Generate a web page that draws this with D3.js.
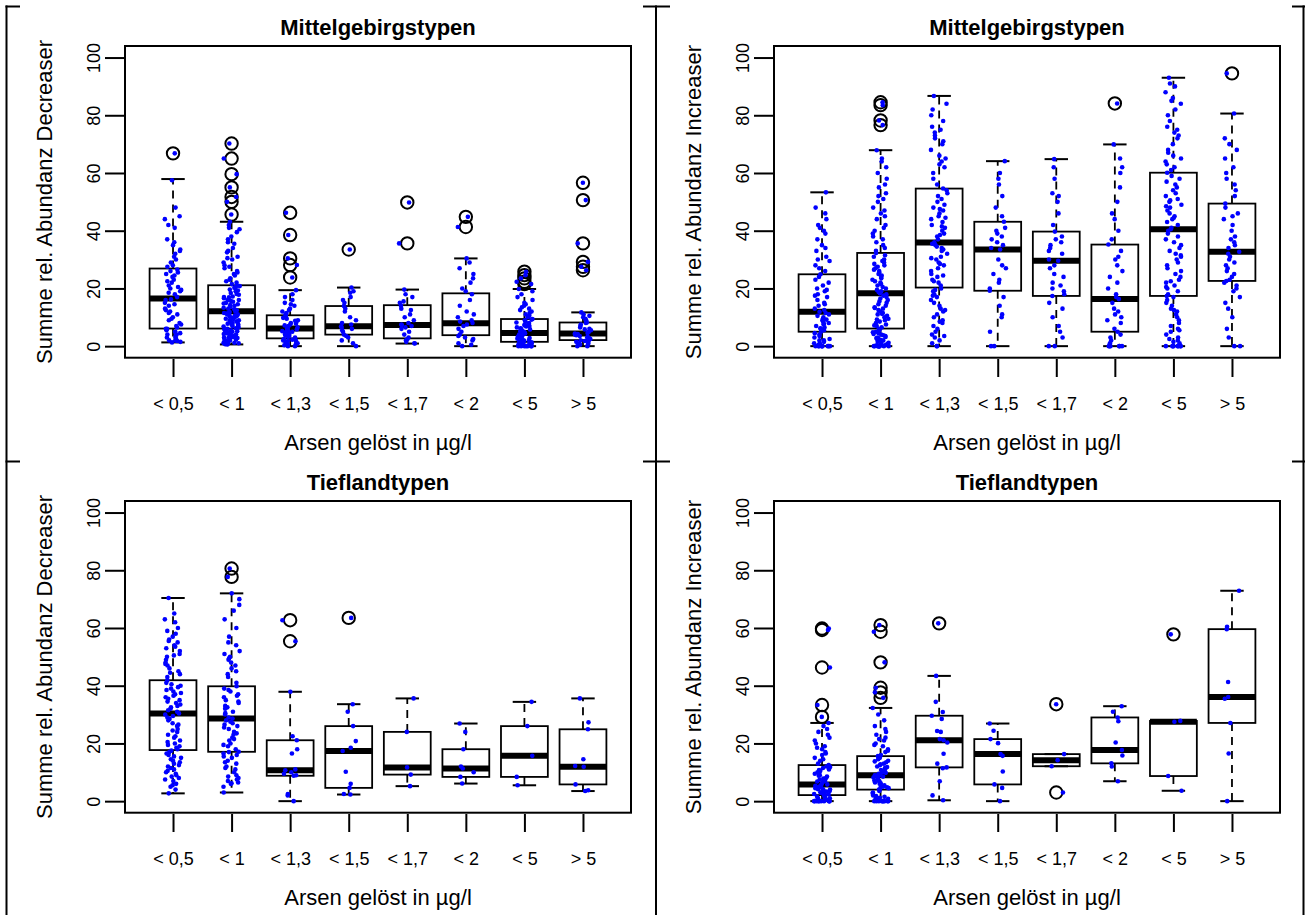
<!DOCTYPE html>
<html><head><meta charset="utf-8">
<script src="https://cdn.jsdelivr.net/npm/d3@7"></script>
<style>body{margin:0;background:#fff}svg{display:block;background:#fff}</style>
</head><body><svg id="c" width="1305" height="915"></svg>
<script>
const categories = ["< 0,5","< 1","< 1,3","< 1,5","< 1,7","< 2","< 5","> 5"];
const yTickValues = [0,20,40,60,80,100];
const xTitle = "Arsen gelöst in µg/l";

// ---- Panel A: Mittelgebirgstypen, Decreaser ----
const A_lo  = [1.3, 0.6, 0, 0, 0.9, 0, 0, 0];
const A_q1  = [6.1, 6.1, 2.7, 4.0, 2.7, 3.8, 1.5, 2.1];
const A_med = [16.5, 12.1, 6.1, 6.9, 7.3, 7.9, 4.6, 4.4];
const A_q3  = [26.9, 21.1, 10.7, 13.9, 14.2, 18.3, 9.4, 8.2];
const A_hi  = [57.9, 43.1, 19.4, 20.3, 19.6, 30.4, 19.8, 11.7];
const A_out = [[66.8],[70.2,65,59.6,55,51.7,50,45.6],[46.2,38.5,30.4,28.1,23.8],[33.5],[49.8,35.6],[44.8,41.3],[25.8,24.6,23.5,22.3,21.5],[56.6,50.6,35.6,29.2,27.5,26.3]];
const A_pts = [
 [1.3,2,1.5,3,2.5,4,5,3.5,6,4.5,2,5.5,1.8,3,4,5,6,7,8,6.5,9.5,10,11,12.5,12,13,14.5,15,16,9,11.5,14,16.2,7.5,17,18,19.5,20,21,22,23,24.5,25,26,18.5,20.5,22.5,24,25.5,26.5,19,27.5,28,29,30,31,32,33,33.5,35,36,37,41,42,44,45,48,57.5,66.8],
 [0.6,1,1.5,2,2.5,3,3.5,4,4.5,5,5.5,6,0.8,1.2,1.8,2.2,2.8,3.2,3.8,4.2,4.8,5.2,5.8,1,2,3,4,5,0.7,1.3,2.6,4.4,6.2,6.6,7,7.4,7.8,8.2,8.6,9,9.4,9.8,10.2,10.6,11,11.4,11.8,6.5,7.5,8.5,9.5,10.5,11.5,12,7,8,9,10,11,6.8,8.8,10.8,12.4,13,13.6,14.2,14.8,15.4,16,16.6,17.2,17.8,18.4,19,19.6,20.2,20.8,13.3,14.5,15.7,16.9,18.1,19.3,20.5,12.8,15,17,19,21,14,16,21.5,22,23,23.5,24.5,25,26,27,28,29,30,31,32.5,33,34,35.5,37,38,39.5,40.5,41,42,43.1,22.5,25.5,27.5,30.5,36,45.6,50,51.7,55,59.6,65,70.2],
 [0,0,0.5,1,1,1.5,2,2,2.5,0.3,1.2,1.8,0.8,2.2,3,3.5,4,4.5,5,5.5,6,3.2,3.8,4.2,4.8,5.2,5.8,6,6.5,7,7.5,8,8.5,9,9.5,10,10.5,6.8,7.8,8.8,9.8,7.2,11,11.5,12,13,14,15,16,17,18,19.4,12.5,14.5,23.8,28.1,30.4,38.5,46.2],
 [0,1,2,3,3.5,4,5,5.5,6,6.5,6.9,7.5,8,9,10,12,13,13.9,15,16,17,18.5,20.3,19,33.5],
 [0.9,1,1.5,2,2.5,3,4,5,6,6.5,7,7.3,7.5,8,9,10,11,12.5,13,14,15,15.5,17,18,19.6,35.6,49.8],
 [0,0.5,1,2,2.5,3,3.5,4,5,6,7,7.5,8,8.5,9,10,11,12,14,16,18,19,20,22,23.5,25,27,29,30.4,41.3,44.8],
 [0,0,0,0,0,0,0.2,0.5,0.5,0.8,1,1,1.2,1.5,0.3,0.7,1.3,0,0.4,0.9,1.6,2,2.2,2.5,2.8,3,3.2,3.5,3.8,4,4.2,4.5,1.8,2.6,3.4,4.4,2.1,3.7,4.8,5,5.5,6,6.5,7,7.5,8,8.5,9,9.2,5.2,6.2,7.2,8.2,5.8,6.8,7.8,9.4,10,10.5,11,12,12.5,13,14,15,16,17,18,19,19.8,11.5,13.5,14.5,21.5,22.3,23.5,24.6,25.8],
 [0,0,0.5,1,1.5,2,2,0.8,1.2,1.8,2.3,2.8,3,3.5,4,4.4,2.5,3.2,3.8,4.2,4.6,5,5.5,6,6.5,7,7.5,8,8.2,5.8,9,9.5,10,10.5,11,11.7,26.3,27.5,29.2,35.6,50.6,56.6]
];

// ---- Panel B: Mittelgebirgstypen, Increaser ----
const B_lo  = [0, 0, 0, 0, 0, 0, 0, 0];
const B_q1  = [5.0, 6.1, 20.3, 19.2, 17.4, 5.0, 17.4, 22.6];
const B_med = [11.9, 18.3, 35.9, 33.5, 29.6, 16.3, 40.5, 32.7];
const B_q3  = [24.9, 32.3, 54.6, 43.1, 39.7, 35.2, 60.1, 49.4];
const B_hi  = [53.3, 67.9, 86.7, 64.1, 64.8, 69.9, 93.0, 80.6];
const B_out = [[],[84.5,83.5,78.2,76.6],[],[],[],[84.1],[],[94.5]];
const B_pts = [
 [0,0,0,0,0,0,0,0,0.5,1,1.5,2,2.5,3,3.5,4,4.5,5,0,1,2,5.5,6,6.5,7,7.5,8,8.5,9,9.5,10,10.5,11,11.5,11.9,6.2,7.8,9.2,12.5,13,14,15,16,17,18,19,20,21,22,23,24,24.9,14.5,17.5,19.5,26,27,28,29.5,30,31,33,34,35,37,39,40,41,42,44,46,53.3,48],
 [0,0,0,0,0,0,0,0,0,0,0.5,1,1.5,2,2.5,3,3.5,4,4.5,5,5.5,6,0.3,0.8,1.2,1.8,2.2,2.8,3.2,3.8,4.2,4.8,6.5,7,7.5,8,8.5,9,9.5,10,10.5,11,11.5,12,12.5,13,13.5,14,14.5,15,15.5,16,16.5,17,17.5,18,18.3,7.2,9.2,11.2,13.2,19,19.5,20,21,21.5,22,22.5,23,24,24.5,25,26,26.5,27,28,28.5,29,30,31,31.5,32.3,20.5,23.5,25.5,27.5,29.5,18.8,33,34,35,36,37,38,39,40,41,42,44,45,46,47,48,50,51,52,53,55,56,58,60,62,64,65,67.9,76.6,78.2,83.5,84.5],
 [0,0,1,2,3,4,5,6,7,8,9,10,11,12,13,14,15,16,17,18,19,20,3.5,8.5,12.5,17.5,19.5,21,22,23,24,25,26,27,28,29,30,31,32,33,34,35,35.5,24.5,28.5,30.5,33.5,34.5,36,22.5,37,38,39,40,41,42,43,44,45,46,47,48,49,50,51,52,53,54,54.6,38.5,41.5,44.5,47.5,56,58,60,62,64,65,66,68,70,72,73,74,75,76,78,80,82,84,86.7,63,71],
 [0,0,5,10,11,14,17,19.2,20,22,23,25,27,28,30,33.5,34,35,36,37,38,39,40,41,43.1,45,48,52,56,58,60,64.1],
 [0,0,3,5,7,10,13,15,17.4,18,19,20,21,22,24,25,27,28,29.6,30,32,33,34,35,36,37,38,39.7,42,46,50,52,53,58,62,64.8],
 [0,0,0,0,0,0,1,2,3,4,5,6,8,9,10,11,12,13,15,16.3,17,18,20,22,24,26,28,30,31,33,35.2,37,40,44,46,50,55,60,62,65,69.9,84.1],
 [0,0,0,0,0,0,0,0,1,1.5,2,3,4,5,6,7,8,9,10,11,12,13,14,15,16,17,17.4,2.5,5.5,12.5,18,19,20,21,22,23,24,25,26,27,28,29,30,31,32,33,34,35,36,37,38,39,40,40.5,20.5,22.5,31.5,41,42,43,44,45,46,47,48,49,50,51,52,53,54,55,56,57,58,59,60.1,44.5,48.5,50.5,61,62,63,64,65,66,67,68,70,72,73,74,75,76,78,80,82,84,85,86,88,90,91,93],
 [0,0,3,6,10,13,15,17,19,20,21,22,22.6,23,24,25,26,27,28,29,30,31,32,32.7,34,35,36,37,38,40,42,44,45,46,48,49.4,52,54,56,58,60,62,65,68,70,72,80.6,94.5]
];

// ---- Panel C: Tieflandtypen, Decreaser ----
const C_lo  = [2.7, 3.0, 0, 2.3, 5.2, 6.1, 5.5, 3.5];
const C_q1  = [17.7, 17.1, 8.8, 4.6, 9.2, 8.4, 8.4, 5.8];
const C_med = [30.4, 28.6, 10.7, 17.4, 11.7, 11.3, 15.7, 11.9];
const C_q3  = [41.9, 39.8, 21.1, 26.0, 24.0, 18.0, 26.0, 24.9];
const C_hi  = [70.4, 72.0, 37.9, 33.6, 35.6, 26.9, 34.4, 35.6];
const C_out = [[],[80.6,77.7],[62.7,55.4],[63.5],[],[],[],[]];
const C_pts = [
 [2.7,4,5,6,7,7.5,8,9,9.5,10,11,11.5,12,12.5,13,13.5,14,14.5,15,15.5,16,16.5,17,17.5,5.5,8.5,10.5,18,19,20,21,22,23,24,25,26,27,28,29,29.5,30,30.4,18.5,19.5,20.5,22.5,24.5,26.5,28.5,31,32,33,34,35,36,37,38,39,40,41,41.9,31.5,32.5,33.5,34.5,35.5,36.5,37.5,38.5,39.5,40.5,43,44,45,46,47,48,49,50,51,52,53,54,55,56,57,58,59,60,62,63,65,70.4,44.5,47.5,50.5,53.5,55.5],
 [3,5,6,6.5,7,7.5,8,9,10,11,12,13,14,15,16,17,17.1,6.2,8.5,11.5,13.5,15.5,16.5,18,19,20,21,22,23,24,25,26,27,28,28.6,19.5,21.5,23.5,25.5,26.5,27.5,29,30,31,32,33,34,35,36,37,38,39,39.8,30.5,32.5,34.5,36.5,38.5,41,43,45,47,48,49,50,51,52,54,55,57,60,63,66,68,70,72,44,46,49.5,77.7,80.6],
 [0,2,2.5,8.8,9,9.5,10,10.7,11,16.5,18,21.1,22.5,37.9,55.4,62.7],
 [2.3,2.5,4.6,6,10.2,17.4,18.5,20.8,26,31,33.6,63.5],
 [5.2,9.2,11.7,24,35.6],
 [6.1,8.4,10,11.3,12,18,24,26.9],
 [5.5,8.4,15.7,26,34.4],
 [3.5,3.8,5.8,11.9,12.2,14.5,24.9,27.3,35.6]
];

// ---- Panel D: Tieflandtypen, Increaser ----
const D_lo  = [0, 0, 0.3, 0, 12.1, 6.9, 3.6, 0];
const D_q1  = [2.1, 4.0, 11.7, 5.8, 12.1, 13.1, 8.7, 27.1];
const D_med = [5.8, 9.0, 21.1, 16.3, 14.2, 17.7, 27.5, 36.1];
const D_q3  = [12.5, 15.6, 29.6, 21.5, 16.3, 29.0, 27.8, 59.6];
const D_hi  = [27.1, 32.3, 43.4, 26.9, 16.3, 32.9, 27.8, 72.9];
const D_out = [[59.8,59.3,46.3,33.3,29.2],[61,58.7,48.1,39.3,37.7,35.8],[61.6],[],[33.6,3.0],[],[57.8],[]];
const D_pts = [
 [0,0,0,0,0,0,0,0,0,0.5,1,1.5,2,0.3,0.8,1.2,1.8,2.1,0,1,2.5,3,3.5,4,4.5,5,5.5,5.8,2.8,3.3,3.8,4.3,4.8,5.3,2.3,3.1,4.1,5.1,6.2,6.6,7,7.5,8,8.5,9,9.5,10,10.5,11,11.5,12,12.5,6.8,7.8,8.8,9.8,10.8,11.8,13,14,15,16,17,18,19,20,21,22,23,24,25,26,27.1,14.5,16.5,18.5,29.2,33.3,46.3,59.3,59.8],
 [0,0,0,0,0,0,0,0,0.5,1,1.5,2,2.5,3,3.5,4,0.8,1.8,2.8,0,1.2,4.5,5,5.5,6,6.5,7,7.5,8,8.5,9,4.2,5.2,6.2,7.2,8.2,9,4.8,6.8,8.8,9.5,10,10.5,11,11.5,12,12.5,13,13.5,14,14.5,15,15.6,9.8,10.8,11.8,12.8,13.8,16,17,18,19,20,21,22,23,24,25,26,28,30,32.3,17.5,19.5,21.5,35.8,37.7,39.3,48.1,58.7,61],
 [0.3,2.0,6.9,11.4,11.7,13,16.4,20.3,21.1,21.5,24.0,24.3,28.5,29.6,30.9,34.4,43.4,61.6],
 [0,4.6,5.8,10.3,15.7,16.3,20.1,21.5,24.4,26.9],
 [3.0,12.1,14.2,16.3,33.6],
 [6.9,12.0,13.1,15.8,17.7,20.3,27.7,29.0,31.0,32.9],
 [3.6,8.7,27.5,27.8,57.8],
 [0,16.5,27.1,35.5,36.1,41.3,59.6,60.4,72.9]
];

const panels = [
 {title:"Mittelgebirgstypen", ylab:"Summe rel. Abundanz Decreaser", lo:A_lo,q1:A_q1,med:A_med,q3:A_q3,hi:A_hi,out:A_out,pts:A_pts, ox:0, oy:0},
 {title:"Mittelgebirgstypen", ylab:"Summe rel. Abundanz Increaser", lo:B_lo,q1:B_q1,med:B_med,q3:B_q3,hi:B_hi,out:B_out,pts:B_pts, ox:649, oy:0},
 {title:"Tieflandtypen", ylab:"Summe rel. Abundanz Decreaser", lo:C_lo,q1:C_q1,med:C_med,q3:C_q3,hi:C_hi,out:C_out,pts:C_pts, ox:0, oy:455},
 {title:"Tieflandtypen", ylab:"Summe rel. Abundanz Increaser", lo:D_lo,q1:D_q1,med:D_med,q3:D_q3,hi:D_hi,out:D_out,pts:D_pts, ox:649, oy:455}
];

const FONT = '"Liberation Sans", Arial, Helvetica, sans-serif';
const svg = d3.select("#c");
svg.append("rect").attr("width",1305).attr("height",915).attr("fill","#fff");

function jit(i, k, p) {
  const s = Math.sin((i + 1) * 12.9898 + (k + 1) * 78.233 + (p + 1) * 37.719) * 43758.5453;
  return s - Math.floor(s);
}

panels.forEach((p, pi) => {
  const g = svg.append("g").attr("transform", `translate(${p.ox},${p.oy})`);
  const x = d3.scaleLinear().domain([0.18, 8.82]).range([125, 631]);
  const y = d3.scaleLinear().domain([-4, 104]).range([357.7, 46]);
  const hb = x(1.4) - x(1);   // half box width (boxwex 0.8)
  const hs = x(1.2) - x(1);   // half staple width

  categories.forEach((c, i) => {
    const cx = x(i + 1);
    [[p.q3[i], p.hi[i]], [p.q1[i], p.lo[i]]].forEach(([a, b]) => {
      g.append("line").attr("x1", cx).attr("x2", cx).attr("y1", y(a)).attr("y2", y(b))
        .attr("stroke", "#000").attr("stroke-width", 1.8).attr("stroke-dasharray", "8,6");
    });
    [p.hi[i], p.lo[i]].forEach(v => {
      g.append("line").attr("x1", cx - hs).attr("x2", cx + hs).attr("y1", y(v)).attr("y2", y(v))
        .attr("stroke", "#000").attr("stroke-width", 2);
    });
    g.append("rect").attr("x", cx - hb).attr("width", 2 * hb)
      .attr("y", y(p.q3[i])).attr("height", y(p.q1[i]) - y(p.q3[i]))
      .attr("fill", "none").attr("stroke", "#000").attr("stroke-width", 1.8);
    g.append("line").attr("x1", cx - hb).attr("x2", cx + hb).attr("y1", y(p.med[i])).attr("y2", y(p.med[i]))
      .attr("stroke", "#000").attr("stroke-width", 6);
    p.out[i].forEach(v => {
      g.append("circle").attr("cx", cx).attr("cy", y(v)).attr("r", 6.2)
        .attr("fill", "none").attr("stroke", "#000").attr("stroke-width", 2);
    });
  });

  p.pts.forEach((arr, k) => {
    g.append("g").selectAll("circle").data(arr).join("circle")
      .attr("cx", (v, i) => x(k + 1 + (jit(i, k, pi) - 0.5) * 0.28))
      .attr("cy", v => y(v)).attr("r", 2.3).attr("fill", "#0000ff");
  });

  g.append("rect").attr("x", 125).attr("y", 46).attr("width", 631 - 125).attr("height", 357.7 - 46)
    .attr("fill", "none").attr("stroke", "#000").attr("stroke-width", 2);

  const yg = g.append("g").attr("transform", "translate(125,0)")
    .call(d3.axisLeft(y).tickValues(yTickValues).tickSize(20).tickPadding(0));
  yg.select(".domain").remove();
  yg.selectAll(".tick line").attr("stroke", "#000").attr("stroke-width", 2);
  yg.selectAll(".tick text").attr("transform", "rotate(-90)").attr("x", 0).attr("y", -31)
    .attr("dy", "0.35em").attr("text-anchor", "middle").attr("font-size", 18)
    .attr("font-family", FONT).attr("fill", "#000");

  const xg = g.append("g").attr("transform", "translate(0,359)")
    .call(d3.axisBottom(x).tickValues(categories.map((c, i) => i + 1))
      .tickFormat(d => categories[d - 1]).tickSize(18).tickPadding(0));
  xg.select(".domain").remove();
  xg.selectAll(".tick line").attr("stroke", "#000").attr("stroke-width", 2);
  xg.selectAll(".tick text").attr("y", 45).attr("dy", "0.35em").attr("font-size", 18)
    .attr("font-family", FONT).attr("fill", "#000");

  g.append("text").attr("x", 378).attr("y", 35).attr("text-anchor", "middle")
    .attr("font-family", FONT).attr("font-weight", "bold").attr("font-size", 22).text(p.title);
  g.append("text").attr("x", 378).attr("y", 450).attr("text-anchor", "middle")
    .attr("font-family", FONT).attr("font-size", 22).text(xTitle);
  g.append("text").attr("transform", "translate(52,202) rotate(-90)").attr("text-anchor", "middle")
    .attr("font-family", FONT).attr("font-size", 22).text(p.ylab);
});

const gridV = [6.5, 656, 1303.5];
const gridSegs = [[5.5, 20], [643, 670], [1292, 1305]];
const gridH = [6.5, 461.5];
const tg = svg.append("g").attr("stroke", "#000").attr("stroke-width", 2);
gridV.forEach(xv => tg.append("line").attr("x1", xv).attr("x2", xv).attr("y1", 5.5).attr("y2", 915));
gridH.forEach(yv => gridSegs.forEach(([a, b]) =>
  tg.append("line").attr("x1", a).attr("x2", b).attr("y1", yv).attr("y2", yv)));
</script></body></html>
